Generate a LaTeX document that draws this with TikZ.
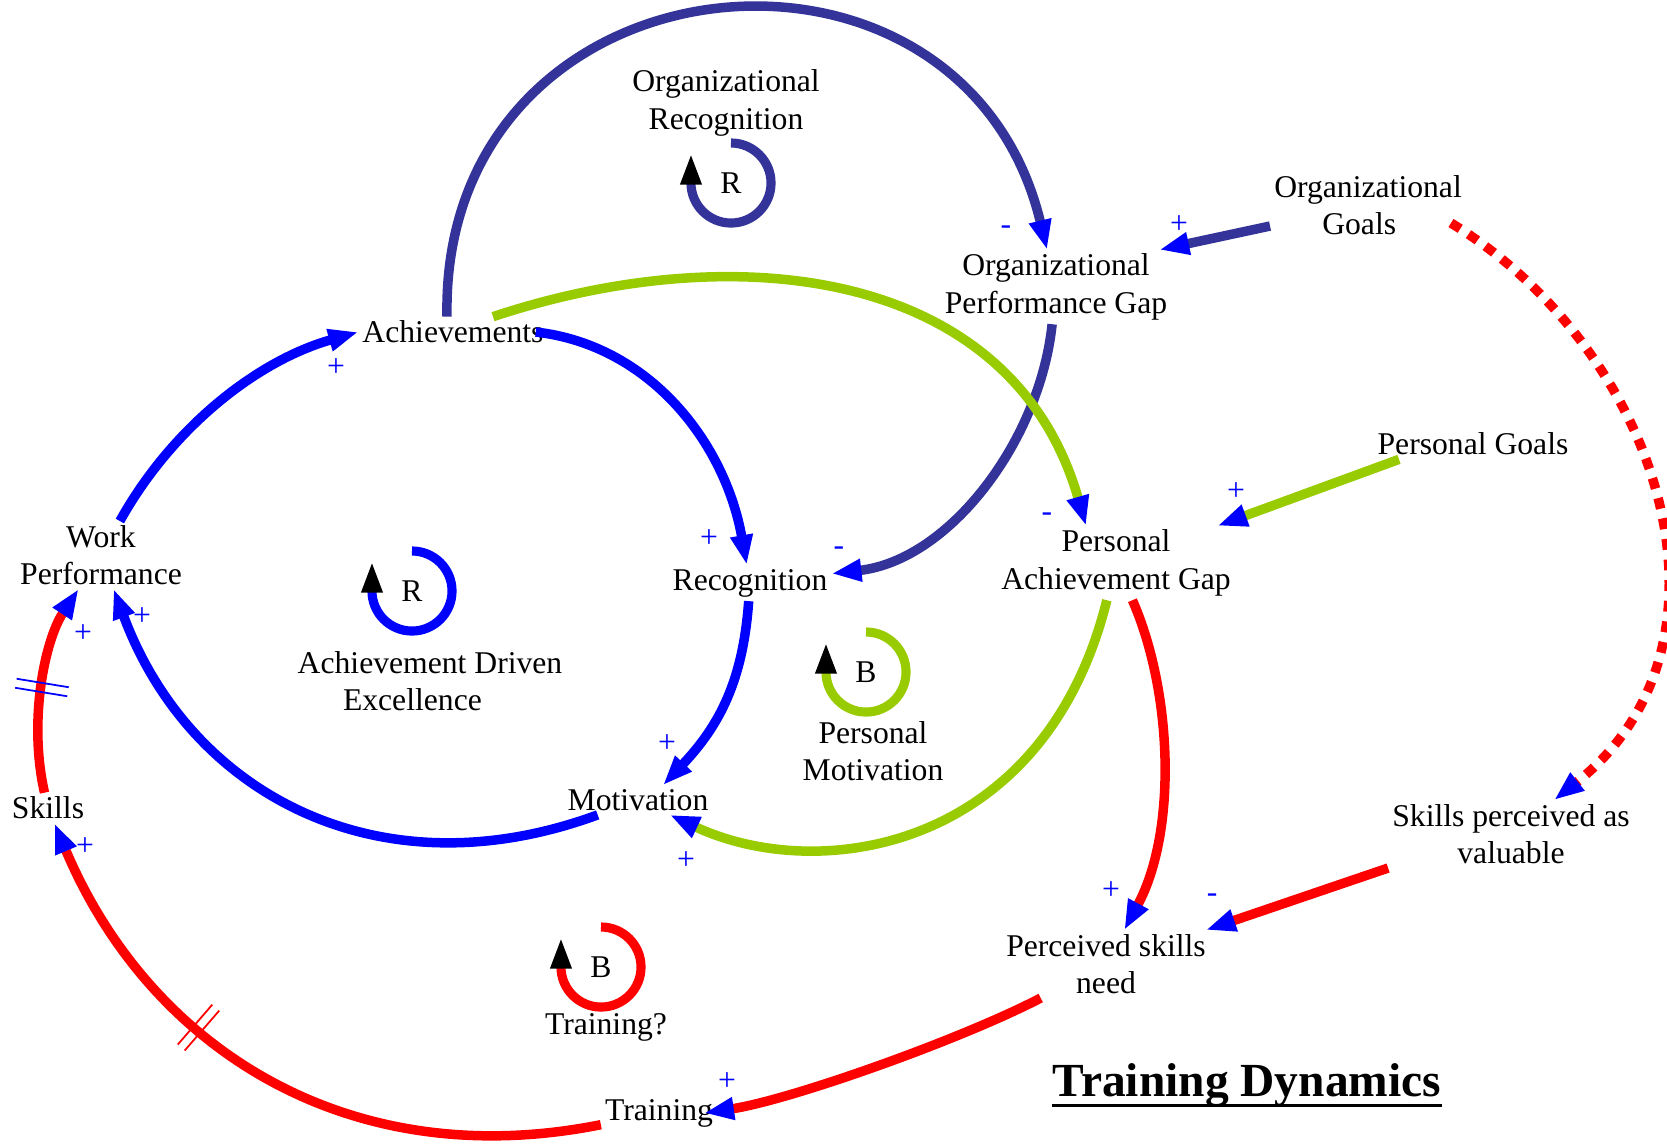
\documentclass[tikz,border=0pt]{standalone}
\usepackage{xcolor}
\usepackage{fontspec}
\setmainfont{Liberation Serif}
\usepackage{tikz}
\usetikzlibrary{arrows.meta, positioning, decorations.markings}
\definecolor{navy}{HTML}{333399}
\definecolor{lime}{HTML}{99CC00}

\begin{document}
\begin{tikzpicture}
  [
    x=0.01cm, y=-0.01cm,
    >={Triangle[length=8.5pt, width=6pt, color=blue]},
    Var/.style={align=center, inner sep=1pt, font=\fontsize{9}{10.6}\selectfont},
    Sign/.style={text=blue, inner sep=0pt, font=\fontsize{9}{10.6}\selectfont},
    Navy/.style={->, draw=navy, line width=2.7pt},
    Green/.style={->, draw=lime, line width=2.7pt},
    Blue/.style={->, draw=blue, line width=2.7pt},
    Red/.style={->, draw=red, line width=2.7pt},
    Loop/.style={line width=2.6pt, -{Triangle[length=9pt, width=5.5pt, color=black]}},
    Delay/.style 2 args={postaction={decorate}, decoration={markings,
      mark=at position #1 with {\draw[#2, line width=0.5pt, -] (-1.3pt,-7.5pt) -- (-1.3pt,7.5pt) (1.3pt,-7.5pt) -- (1.3pt,7.5pt);}}}
  ]
  \useasboundingbox (0, 0) rectangle (1667, 1144);
  % Nodes
  \node[Var] (orgrec) at(726, 103) {Organizational\\Recognition};
  \node[Var] (orgloop) at(731, 183) {R};
  \node[Var] (orggoals) at(1368, 205) {Organizational\\Goals\hspace*{5pt}};
  \node[Var] (orggap) at(1056, 287) {Organizational\\Performance Gap};
  \node[Var] (ach) at(453, 332) {Achievements};
  \node[Var] (persgoals) at(1473, 444) {Personal Goals};
  \node[Var] (wp) at(101, 555) {Work\\Performance};
  \node[Var] (rec) at(750, 583) {Recognition};
  \node[Var] (pag) at(1116, 563) {Personal\\Achievement Gap};
  \node[Var] (adeloop) at(412, 591) {R};
  \node[Var] (ade) at(430, 681) {Achievement Driven\\Excellence\hspace*{10pt}};
  \node[Var] (pmloop) at(866, 672) {B};
  \node[Var] (pm) at(873, 751) {Personal\\Motivation};
  \node[Var] (mot) at(638, 800) {Motivation};
  \node[Var] (skills) at(48, 808) {Skills};
  \node[Var] (spv) at(1511, 834) {Skills perceived as\\valuable};
  \node[Var] (psn) at(1106, 964) {Perceived skills\\need};
  \node[Var] (tloop) at(601, 967) {B};
  \node[Var] (tq) at(606, 1027) {Training?};
  \node[Var] (training) at(659, 1113) {Training};
  \node[inner sep=0pt, font=\bfseries\fontsize{13.5}{16}\selectfont] (title) at(1247, 1085) {Training Dynamics};
  \draw[line width=0.9pt] ([yshift=-2.6pt]title.base west) -- ([yshift=-2.6pt]title.base east);
  % Loops
  \draw[Loop, navy] ([yshift=0.4cm]orgloop.center) arc[start angle=90, end angle=-180, radius=0.4cm] -- ++(0, -30);
  \draw[Loop, blue] ([yshift=0.4cm]adeloop.center) arc[start angle=90, end angle=-180, radius=0.4cm] -- ++(0, -30);
  \draw[Loop, lime] ([yshift=0.4cm]pmloop.center) arc[start angle=90, end angle=-180, radius=0.4cm] -- ++(0, -30);
  \draw[Loop, red] ([yshift=0.4cm]tloop.center) arc[start angle=90, end angle=-180, radius=0.4cm] -- ++(0, -30);
  % Lines
  \draw[Navy] ([xshift=-0.06cm]ach.north) .. controls (440, -52) and (962, -104) .. (orggap);
  \draw[Navy] (orggap) .. controls (1040, 440) and (950, 560) .. (rec);
  \draw[Navy] (orggoals) -- ([xshift=-0.12cm]orggap.north east);
  \draw[Green] ([xshift=0.4cm]ach.north) .. controls (739, 235) and (1013, 270) .. ([xshift=-0.3cm]pag.north);
  \draw[Green] ([xshift=-0.74cm]persgoals.south) -- (pag);
  \draw[Green] (pag) .. controls (1045, 850) and (820, 885) .. (mot);
  \draw[Blue] ([xshift=-0.12cm]ach.east) .. controls (650, 345) and (725, 443) .. (rec);
  \draw[Blue] (rec) .. controls (743, 680) and (720, 725) .. ([xshift=0.25cm]mot.north);
  \draw[Blue] (mot) .. controls (380, 895) and (190, 795) .. (wp);
  \draw[Blue] (wp) .. controls (171, 429) and (256, 361) .. (ach.west);
  \draw[Red] (pag) .. controls (1172, 690) and (1178, 830) .. (psn);
  \draw[Red, dash pattern=on 3.1pt off 2.8pt] ([shift={(-15, 18)}]orggoals.east) .. controls (1661, 351) and (1752, 644) .. (spv);
  \draw[Red] (spv.south west) -- (psn);
  \draw[Red] (psn) .. controls (960, 1040) and (790, 1100) .. ([xshift=-0.13cm]training.east);
  \draw[Red, Delay={0.63}{red}] (training) .. controls (350, 1175) and (150, 1050) .. (skills);
  \draw[Red, Delay={0.5}{blue}] (skills) .. controls (28, 720) and (45, 640) .. (wp);
  % Signs
  \node[Sign] (s1) at(1006, 230) {-};
  \node[Sign] (s2) at(839, 551) {-};
  \node[Sign] (s3) at(1179, 225) {+};
  \node[Sign] (s4) at(1047, 517) {-};
  \node[Sign] (s5) at(1236, 492) {+};
  \node[Sign] (s6) at(686, 861) {+};
  \node[Sign] (s7) at(709, 539) {+};
  \node[Sign] (s8) at(667, 744) {+};
  \node[Sign] (s9) at(142, 617) {+};
  \node[Sign] (s10) at(336, 368) {+};
  \node[Sign] (s11) at(1111, 891) {+};
  \node[Sign] (s13) at(1212, 898) {-};
  \node[Sign] (s14) at(727, 1082) {+};
  \node[Sign] (s15) at(85, 847) {+};
  \node[Sign] (s16) at(83, 634) {+};
\end{tikzpicture}
\end{document}
